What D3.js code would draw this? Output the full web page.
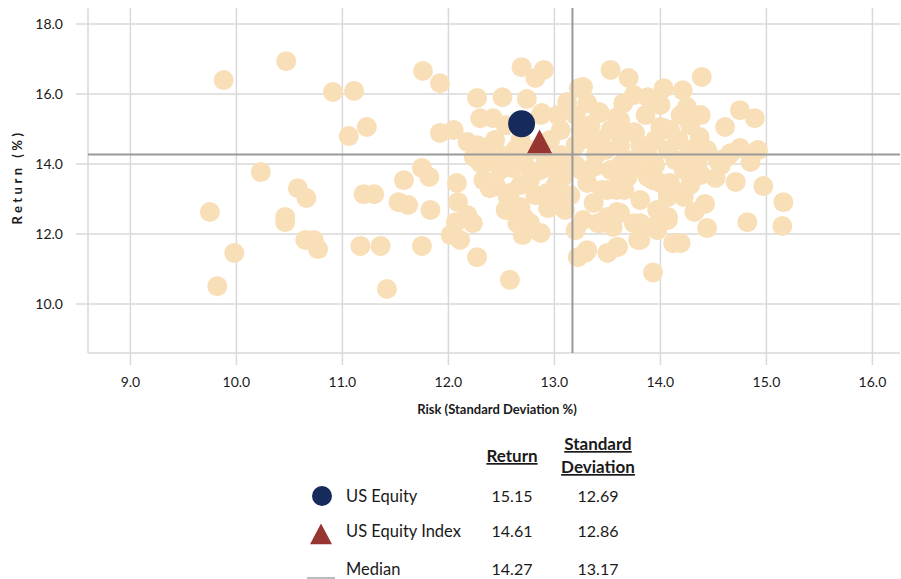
<!DOCTYPE html>
<html>
<head>
<meta charset="utf-8">
<script src="https://cdn.jsdelivr.net/npm/d3@7"></script>
<style>
  body { margin: 0; background: #fff; }
  text { font-family: Lato, "Open Sans", sans-serif; fill: #1a1a1a; }
</style>
</head>
<body>
<div id="chart"></div>
<script>
// peer funds: risk (std dev %) and return (%)
var peerRisk = [
  9.88, 10.47, 9.75, 9.82, 9.98, 10.23, 10.46, 10.46, 10.58, 10.66, 10.65, 10.73, 10.77,
  10.91, 11.11, 11.06, 11.23, 11.20, 11.30, 11.17, 11.36, 11.42, 11.53, 11.62, 11.58,
  11.75, 11.82, 11.83, 11.75, 11.76, 11.92, 11.92, 12.05, 12.08, 12.09, 12.07, 12.18,
  12.23, 12.02, 12.11, 12.27, 12.27, 12.51, 12.30, 12.42, 12.18, 12.27, 12.37, 12.24,
  12.37, 12.33, 12.39, 12.56, 12.54, 12.58, 12.69, 12.90, 12.82, 12.74,
  12.61, 12.30, 12.58, 12.57, 12.68, 12.71, 12.65, 12.77, 12.87, 12.70, 12.93, 13.03,
  12.94, 12.96, 13.08, 12.88, 13.03, 13.12, 13.23, 13.31, 13.43, 13.53, 13.70, 13.62,
  13.75, 14.00, 13.91, 14.03, 13.27, 13.41, 13.50, 13.62, 13.75, 13.55, 13.31, 13.22,
  13.59, 13.50, 13.81, 13.93, 13.97, 14.07, 13.93, 14.12, 13.37, 13.53, 13.45, 13.59,
  13.69, 13.88, 14.00, 14.07, 14.12,
  14.39, 14.21, 13.88, 14.25, 13.75, 13.65, 14.75, 14.89, 14.61, 14.03, 14.09, 14.17,
  14.37, 14.42, 14.75, 14.92, 14.63, 14.85, 14.54, 14.71, 14.97, 15.16, 15.15, 14.82,
  14.44, 14.42, 14.52, 14.22, 14.07, 14.07, 13.97, 13.81, 13.79, 14.19, 13.60, 13.29,
  13.59, 13.43, 13.37, 13.50, 13.31, 13.59, 13.78, 13.93, 14.09, 14.22, 14.35, 14.44,
  13.88, 14.07, 14.25, 13.42, 13.59, 13.62, 13.76, 13.27,
  13.06, 13.20, 13.34, 13.48, 13.62, 13.06, 13.20, 12.92, 12.77, 12.68, 12.54, 12.63,
  12.49, 12.77, 12.87, 13.01, 13.15, 13.25, 13.39, 13.72, 13.81, 13.95, 14.28, 14.38,
  14.19, 13.86, 14.00, 13.53, 13.34, 13.20, 12.96, 13.10, 13.66, 13.81, 14.28, 14.38,
  14.57, 14.28, 14.14, 13.95, 13.62, 13.43, 13.25, 12.44, 12.49, 12.72, 12.45, 12.68,
  12.82, 13.10, 13.20, 12.87, 14.32, 14.66
];
var peerReturn = [
  16.40, 16.94, 12.63, 10.51, 11.46, 13.77, 12.49, 12.34, 13.31, 13.03, 11.83, 11.83, 11.57,
  16.06, 16.09, 14.80, 15.06, 13.14, 13.14, 11.66, 11.66, 10.43, 12.91, 12.83, 13.54,
  13.89, 13.63, 12.69, 11.66, 16.66, 16.31, 14.89, 14.97, 13.46, 12.91, 12.34, 12.54,
  12.31, 11.97, 11.83, 11.34, 15.89, 15.91, 15.31, 15.31, 14.63, 14.54, 14.49, 14.20,
  14.06, 13.54, 13.31, 13.06, 12.69, 10.69, 16.77, 16.69, 16.46, 15.86,
  13.89, 14.03, 13.17, 12.77, 12.77, 12.49, 12.31, 12.31, 12.03, 11.97, 13.17, 13.06,
  12.74, 13.89, 13.63, 15.46, 15.40, 15.77, 16.17, 15.74, 15.46, 16.69, 16.46, 15.26,
  14.91, 15.06, 15.83, 16.17, 12.40, 12.31, 12.49, 12.60, 12.31, 12.20, 11.54, 11.34,
  11.63, 11.46, 11.83, 10.90, 12.69, 12.49, 12.20, 11.74, 13.91, 13.83, 13.26, 13.26,
  13.63, 13.63, 13.46, 13.06, 13.26,
  16.49, 16.11, 15.91, 15.63, 15.97, 15.74, 15.54, 15.31, 15.06, 15.03, 14.97, 14.69,
  14.77, 14.40, 14.46, 14.40, 14.20, 14.06, 14.11, 13.49, 13.37, 12.91, 12.23, 12.34,
  12.17, 12.86, 13.60, 13.06, 13.17, 12.40, 12.11, 12.31, 11.83, 11.74, 11.63, 11.46,
  12.63, 12.31, 12.89, 13.26, 13.46, 13.74, 13.91, 13.54, 13.46, 13.83, 14.03, 14.40,
  14.31, 14.40, 14.20, 15.49, 15.34, 14.97, 14.89, 16.20,
  14.97, 14.54, 14.69, 14.40, 14.54, 14.26, 13.97, 14.11, 14.40, 14.69, 15.11, 14.40,
  13.83, 13.54, 13.83, 13.40, 13.11, 13.83, 14.26, 14.11, 14.54, 14.69, 15.11, 15.40,
  15.40, 15.40, 15.69, 14.97, 15.11, 15.40, 14.69, 14.11, 13.26, 12.97, 13.40, 13.69,
  13.97, 14.40, 14.11, 13.97, 13.97, 14.69, 14.97, 14.69, 14.26, 13.97, 13.37, 13.40,
  13.11, 12.69, 12.11, 15.40, 12.63, 14.31
];

var legendNames = ["US Equity", "US Equity Index", "Median"];
var legendReturn = [15.15, 14.61, 14.27];
var legendStdDev = [12.69, 12.86, 13.17];

var xTicks = [9, 10, 11, 12, 13, 14, 15, 16];
var yTicks = [10, 12, 14, 16, 18];

var peers = peerRisk.map(function(r, i) { return {risk: r, ret: peerReturn[i]}; });

var svgWidth = 901;
var svgHeight = 579;
var plot = {left: 88, right: 900, top: 8, bottom: 353};

var svg = d3.select("#chart")
  .append("svg")
  .attr("width", svgWidth)
  .attr("height", svgHeight);

var xScale = d3.scaleLinear()
  .domain([8.6, 16.26])
  .range([plot.left, plot.right]);

var yScale = d3.scaleLinear()
  .domain([8.6, 18.46])
  .range([plot.bottom, plot.top]);

var gridColor = "#d9d9d9";

// gridlines + outer tick marks
svg.append("g").selectAll("line")
  .data(xTicks)
  .enter()
  .append("line")
  .attr("x1", d => xScale(d))
  .attr("x2", d => xScale(d))
  .attr("y1", plot.top)
  .attr("y2", plot.bottom + 12)
  .attr("stroke", gridColor)
  .attr("stroke-width", 1.5);

svg.append("g").selectAll("line")
  .data(yTicks)
  .enter()
  .append("line")
  .attr("x1", plot.left - 12)
  .attr("x2", plot.right)
  .attr("y1", d => yScale(d))
  .attr("y2", d => yScale(d))
  .attr("stroke", gridColor)
  .attr("stroke-width", 1.5);

// left and bottom frame
svg.append("line")
  .attr("x1", plot.left).attr("x2", plot.left)
  .attr("y1", plot.top).attr("y2", plot.bottom)
  .attr("stroke", gridColor).attr("stroke-width", 1.5);
svg.append("line")
  .attr("x1", plot.left).attr("x2", plot.right)
  .attr("y1", plot.bottom).attr("y2", plot.bottom)
  .attr("stroke", gridColor).attr("stroke-width", 1.5);

// tick labels
svg.append("g").selectAll("text")
  .data(xTicks)
  .enter()
  .append("text")
  .attr("x", d => xScale(d))
  .attr("y", plot.bottom + 34)
  .attr("text-anchor", "middle")
  .attr("font-size", 14)
  .text(d => d3.format(".1f")(d));

svg.append("g").selectAll("text")
  .data(yTicks)
  .enter()
  .append("text")
  .attr("x", 63)
  .attr("y", d => yScale(d) + 5)
  .attr("text-anchor", "end")
  .attr("font-size", 14)
  .text(d => d3.format(".1f")(d));

// axis titles
svg.append("text")
  .attr("x", 497)
  .attr("y", 414)
  .attr("text-anchor", "middle")
  .attr("font-size", 13)
  .attr("font-weight", "bold")
  .text("Risk (Standard Deviation %)");

svg.append("text")
  .attr("transform", "translate(22, 177) rotate(-90)")
  .attr("text-anchor", "middle")
  .attr("font-size", 13)
  .attr("font-weight", "bold")
  .attr("letter-spacing", 3.5)
  .text("Return (%)");

// peer universe
svg.append("g").selectAll("circle")
  .data(peers)
  .enter()
  .append("circle")
  .attr("cx", d => xScale(d.risk))
  .attr("cy", d => yScale(d.ret))
  .attr("r", 10)
  .attr("fill", "#f8dfb7");

// median lines
var medianColor = "#9a9a9a";
svg.append("line")
  .attr("x1", plot.left).attr("x2", plot.right)
  .attr("y1", yScale(legendReturn[2])).attr("y2", yScale(legendReturn[2]))
  .attr("stroke", medianColor).attr("stroke-width", 2);
svg.append("line")
  .attr("x1", xScale(legendStdDev[2])).attr("x2", xScale(legendStdDev[2]))
  .attr("y1", plot.top).attr("y2", plot.bottom)
  .attr("stroke", medianColor).attr("stroke-width", 2);

// fund and index
var navy = "#172a5c";
var brick = "#973532";
svg.append("circle")
  .attr("cx", xScale(legendStdDev[0]))
  .attr("cy", yScale(legendReturn[0]))
  .attr("r", 13.5)
  .attr("fill", navy);

function triangle(cx, cy, s) {
  return "M" + cx + "," + (cy - s * 1.05) +
    "L" + (cx + s) + "," + (cy + s * 0.85) +
    "L" + (cx - s) + "," + (cy + s * 0.85) + "Z";
}
svg.append("path")
  .attr("d", triangle(xScale(legendStdDev[1]), yScale(legendReturn[1]), 12.5))
  .attr("fill", brick);

// legend table
var legend = svg.append("g");
var colRet = 512, colSd = 598;

legend.append("text")
  .attr("x", colRet).attr("y", 462)
  .attr("text-anchor", "middle")
  .attr("font-size", 17).attr("font-weight", "bold")
  .attr("text-decoration", "underline")
  .text("Return");
legend.append("text")
  .attr("x", colSd).attr("y", 450)
  .attr("text-anchor", "middle")
  .attr("font-size", 17).attr("font-weight", "bold")
  .attr("text-decoration", "underline")
  .text("Standard");
legend.append("text")
  .attr("x", colSd).attr("y", 473)
  .attr("text-anchor", "middle")
  .attr("font-size", 17).attr("font-weight", "bold")
  .attr("text-decoration", "underline")
  .text("Deviation");

var rowY = [502, 537, 575];

legend.selectAll("text.name")
  .data(legendNames)
  .enter()
  .append("text")
  .attr("class", "name")
  .attr("x", 346)
  .attr("y", (d, i) => rowY[i])
  .attr("font-size", 16.5)
  .text(d => d);

legend.selectAll("text.ret")
  .data(legendReturn)
  .enter()
  .append("text")
  .attr("class", "ret")
  .attr("x", colRet)
  .attr("y", (d, i) => rowY[i])
  .attr("text-anchor", "middle")
  .attr("font-size", 16)
  .text(d => d3.format(".2f")(d));

legend.selectAll("text.sd")
  .data(legendStdDev)
  .enter()
  .append("text")
  .attr("class", "sd")
  .attr("x", colSd)
  .attr("y", (d, i) => rowY[i])
  .attr("text-anchor", "middle")
  .attr("font-size", 16)
  .text(d => d3.format(".2f")(d));

legend.append("circle")
  .attr("cx", 322).attr("cy", rowY[0] - 6)
  .attr("r", 10)
  .attr("fill", navy);
legend.append("path")
  .attr("d", triangle(321, rowY[1] - 2, 11))
  .attr("fill", brick);
legend.append("line")
  .attr("x1", 307).attr("x2", 335)
  .attr("y1", 578).attr("y2", 578)
  .attr("stroke", "#a6a6a6").attr("stroke-width", 1.5);
</script>
</body>
</html>
